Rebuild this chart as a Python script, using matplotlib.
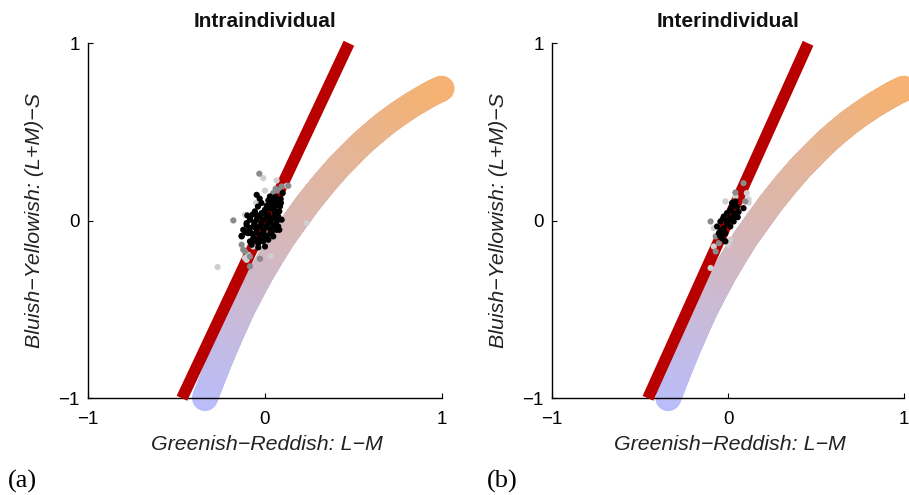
import numpy as np
import matplotlib
matplotlib.use("Agg")
import matplotlib.pyplot as plt
from matplotlib.collections import LineCollection
from matplotlib.colors import to_rgb

# ---------------- data ----------------
titles = ["Intraindividual", "Interindividual"]
panel_tags = ["(a)", "(b)"]
xlabel = "Greenish\u2212Reddish: L\u2212M"
ylabel = "Bluish\u2212Yellowish: (L+M)\u2212S"
ticks = [-1, 0, 1]
tick_labels = ["\u22121", "0", "1"]

# red axis line (per panel)
red_x_a = [-0.470, 0.475]
red_y_a = [-1.0, 1.0]
red_x_b = [-0.455, 0.455]
red_y_b = [-1.0, 1.0]

# colour-gradient locus (blue -> orange), read along the band centre
curve_x = [-0.340, -0.301, -0.261, -0.219, -0.175, -0.129, -0.077, -0.023, 0.037, 0.099, 0.171, 0.244,
           0.325, 0.412, 0.511, 0.563, 0.621, 0.682, 0.751, 0.826, 0.911, 0.947, 1.000]
curve_y = [-1.000, -0.900, -0.800, -0.700, -0.600, -0.500, -0.400, -0.300, -0.200, -0.100, 0.000, 0.100,
           0.200, 0.300, 0.400, 0.450, 0.500, 0.550, 0.600, 0.650, 0.700, 0.720, 0.745]

# panel (a) scatter
a_black_x = [-0.047, 0.019, 0.057, 0.085, 0.028, 0.000, -0.057, -0.019, 0.019, 0.057, 0.075, -0.085,
             -0.047, -0.009, 0.028, 0.066, -0.104, -0.066, -0.028, 0.009, 0.047, 0.081, -0.123, -0.085,
             -0.047, -0.009, 0.038, -0.066, -0.028, -0.085, -0.038, 0.000, -0.132, 0.100, 0.066, 0.089,
             0.028, 0.047, 0.081, 0.094, 0.066, 0.075, 0.047, 0.019, -0.028, -0.066, -0.075, -0.038,
             -0.132, -0.104, -0.085, -0.020, 0.040, -0.040, 0.010, 0.050, -0.070, -0.030, 0.010, 0.045,
             -0.060, -0.020, 0.020, 0.055, -0.090, -0.050, -0.010, 0.030, -0.070, -0.030, 0.010, -0.050,
             -0.010, 0.070, 0.090, -0.030, 0.060, -0.110, -0.100, 0.035, -0.005, -0.045, 0.065, -0.095,
             0.000, -0.060, 0.030]
a_black_y = [0.146, 0.115, 0.090, 0.081, 0.071, 0.062, 0.053, 0.043, 0.034, 0.043, 0.024, 0.006,
             0.006, 0.006, -0.004, -0.004, -0.023, -0.032, -0.032, -0.032, -0.032, -0.051, -0.051, -0.060,
             -0.066, -0.070, -0.066, -0.098, -0.098, -0.116, -0.126, -0.145, -0.085, 0.156, 0.109, 0.122,
             0.137, 0.062, 0.053, 0.006, -0.051, -0.032, -0.088, -0.107, -0.116, -0.107, -0.135, -0.150,
             -0.088, -0.013, 0.015, 0.100, 0.100, 0.080, 0.085, 0.075, 0.035, 0.025, 0.020, 0.015,
             -0.010, -0.015, -0.015, -0.020, -0.040, -0.045, -0.050, -0.050, -0.075, -0.080, -0.085, -0.110,
             -0.115, 0.050, 0.100, 0.125, 0.135, -0.065, 0.030, 0.115, 0.040, 0.030, 0.010, -0.070,
             -0.100, -0.020, -0.070]
a_gray_x = [-0.032, 0.094, 0.075, -0.179, -0.123, -0.085, -0.028, -0.132, 0.047, -0.113, 0.132, -0.085, 0.060]
a_gray_y = [0.265, 0.193, 0.171, 0.002, -0.163, -0.257, -0.214, -0.135, 0.156, -0.173, 0.197, -0.201, 0.180]
a_light_x = [-0.010, 0.066, 0.123, -0.113, 0.236, -0.113, -0.094, 0.032, -0.066, -0.268, -0.104, -0.020, 0.040, -0.050, 0.000]
a_light_y = [0.240, 0.227, 0.197, 0.034, -0.013, -0.210, -0.192, -0.201, -0.145, -0.261, -0.220, 0.030, -0.020, 0.100, 0.170]

# panel (b) scatter
b_black_x = [0.023, 0.042, 0.088, 0.013, 0.032, -0.006, -0.024, 0.013, 0.042, -0.043, -0.006, 0.032,
             -0.062, -0.024, 0.013, -0.052, -0.015, -0.034, -0.015, 0.050, 0.000, -0.040, 0.020, -0.030,
             0.060, 0.055, -0.045]
b_black_y = [0.100, 0.109, 0.071, 0.062, 0.043, 0.043, 0.024, 0.015, 0.024, -0.004, -0.013, -0.004,
             -0.032, -0.041, -0.032, -0.070, -0.070, -0.098, -0.116, 0.080, 0.000, -0.055, 0.075, 0.010,
             0.050, 0.020, -0.085]
b_gray_x = [0.088, 0.098, -0.099, -0.070, -0.052, -0.070, 0.042]
b_gray_y = [0.212, 0.109, -0.004, -0.088, -0.126, -0.173, 0.159]
b_light_x = [0.042, 0.107, -0.015, 0.116, -0.081, 0.013, -0.081, -0.099, 0.004, 0.117]
b_light_y = [0.137, 0.156, 0.109, 0.121, -0.041, -0.107, -0.145, -0.266, -0.135, 0.103]

# ---------------- style ----------------
RED = "#b80000"
BLUE_END = "#b9bdfb"
ORANGE_END = "#f5b272"
SANS = ["Liberation Sans", "DejaVu Sans"]
SERIF = ["Liberation Serif", "DejaVu Serif"]

fig = plt.figure(figsize=(9.09, 4.95), dpi=100)
axes = [fig.add_axes([0.0971, 0.1954, 0.3888, 0.7172]),
        fig.add_axes([0.6073, 0.1954, 0.3872, 0.7172])]

panels = [
    (red_x_a, red_y_a, a_black_x, a_black_y, a_gray_x, a_gray_y, a_light_x, a_light_y),
    (red_x_b, red_y_b, b_black_x, b_black_y, b_gray_x, b_gray_y, b_light_x, b_light_y),
]


def gradient_curve(ax, xs, ys):
    xs = np.asarray(xs, float)
    ys = np.asarray(ys, float)
    # split the straight polyline segments finely so the colour can vary smoothly
    d = np.hypot(np.diff(xs), np.diff(ys))
    s = np.concatenate([[0], np.cumsum(d)])
    t = np.linspace(0, s[-1], 400)
    px = np.interp(t, s, xs)
    py = np.interp(t, s, ys)
    pts = np.column_stack([px, py]).reshape(-1, 1, 2)
    segs = np.concatenate([pts[:-1], pts[1:]], axis=1)
    c0 = np.array(to_rgb(BLUE_END))
    c1 = np.array(to_rgb(ORANGE_END))
    f = (t[:-1] + t[1:]) / 2 / s[-1]
    cols = c0[None, :] * (1 - f[:, None]) + c1[None, :] * f[:, None]
    lc = LineCollection(segs, colors=cols, linewidths=18.5, capstyle="round",
                        joinstyle="round", zorder=2, clip_on=False)
    ax.add_collection(lc)


for i, ax in enumerate(axes):
    rx, ry, bx, by, gx, gy, lx, ly = panels[i]
    gradient_curve(ax, curve_x, curve_y)
    ax.plot(rx, ry, color=RED, lw=8.4, solid_capstyle="butt", zorder=3, clip_on=False)
    ax.scatter(lx, ly, s=20, color="#cfcfcf", edgecolors="none", zorder=4, clip_on=False)
    ax.scatter(gx, gy, s=20, color="#8a8a8a", edgecolors="none", zorder=5, clip_on=False)
    ax.scatter(bx, by, s=20, color="#000000", edgecolors="none", zorder=6, clip_on=False)

    ax.set_xlim(-1, 1)
    ax.set_ylim(-1, 1)
    ax.set_xticks(ticks)
    ax.set_yticks(ticks)
    ax.set_xticklabels(tick_labels, fontfamily=SANS, fontsize=13.5)
    ax.set_yticklabels(tick_labels, fontfamily=SANS, fontsize=13.5)
    ax.tick_params(axis="both", direction="in", length=3.5, width=0.8, color="black")
    ax.tick_params(axis="x", pad=9)
    ax.tick_params(axis="y", pad=6)
    for side in ("top", "right"):
        ax.spines[side].set_visible(False)
    for side in ("left", "bottom"):
        ax.spines[side].set_linewidth(1.0)
        ax.spines[side].set_color("black")
    ax.set_facecolor("none")

    ax.set_title(titles[i], fontfamily=SANS, fontweight="bold", fontsize=15, pad=12, color="#111111")
    ax.set_xlabel(xlabel, fontfamily=SANS, fontstyle="italic", fontsize=15.4, color="#222222")
    ax.set_ylabel(ylabel, fontfamily=SANS, fontstyle="italic", fontsize=15.4, color="#222222")
    ax.xaxis.label.set_va("center")
    ax.yaxis.label.set_va("center")
    ax.xaxis.set_label_coords(0.505, -0.13)
    ax.yaxis.set_label_coords(-0.152, 0.5)

fig.text(8 / 909, 1 - 481 / 495, panel_tags[0], fontfamily=SERIF, fontsize=19, va="center", ha="left")
fig.text(487 / 909, 1 - 481 / 495, panel_tags[1], fontfamily=SERIF, fontsize=19, va="center", ha="left")

fig.savefig("out.png", dpi=100)
